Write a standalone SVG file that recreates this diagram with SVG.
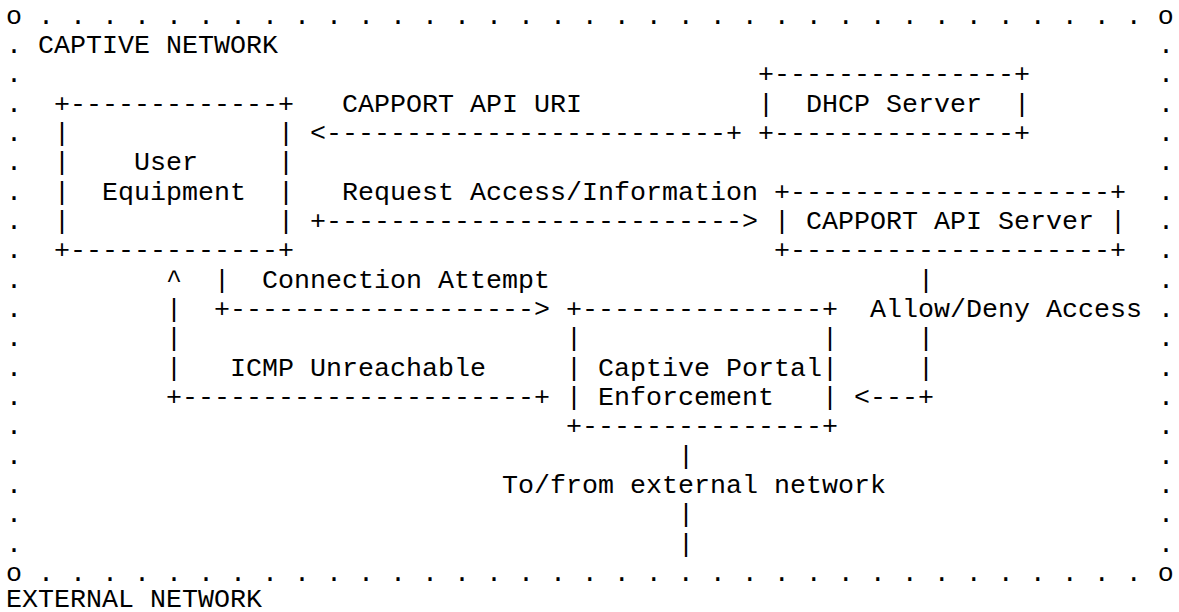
<svg xmlns="http://www.w3.org/2000/svg" width="1179" height="612" viewBox="0 0 1179 612">
<style>
text{font-family:"Liberation Mono","DejaVu Sans Mono",monospace;font-size:26.667px;fill:#000;white-space:pre}
</style>
<rect x="0" y="0" width="1179" height="612" fill="#fff"/>
<g id="captive-network" xml:space="preserve">
<text x="6" y="23.5">o . . . . . . . . . . . . . . . . . . . . . . . . . . . . . . . . . . . o</text>
<text x="38" y="52.8">CAPTIVE NETWORK</text>
<text><tspan x="6" y="52.8">.</tspan><tspan x="6" y="82.2">.</tspan><tspan x="6" y="111.5">.</tspan><tspan x="6" y="140.8">.</tspan><tspan x="6" y="170.2">.</tspan><tspan x="6" y="199.5">.</tspan><tspan x="6" y="228.8">.</tspan><tspan x="6" y="258.2">.</tspan><tspan x="6" y="287.5">.</tspan><tspan x="6" y="316.8">.</tspan><tspan x="6" y="346.2">.</tspan><tspan x="6" y="375.5">.</tspan><tspan x="6" y="404.8">.</tspan><tspan x="6" y="434.2">.</tspan><tspan x="6" y="463.5">.</tspan><tspan x="6" y="492.8">.</tspan><tspan x="6" y="522.2">.</tspan><tspan x="6" y="551.5">.</tspan></text>
<text><tspan x="1158" y="52.8">.</tspan><tspan x="1158" y="82.2">.</tspan><tspan x="1158" y="111.5">.</tspan><tspan x="1158" y="140.8">.</tspan><tspan x="1158" y="170.2">.</tspan><tspan x="1158" y="199.5">.</tspan><tspan x="1158" y="228.8">.</tspan><tspan x="1158" y="258.2">.</tspan><tspan x="1158" y="287.5">.</tspan><tspan x="1158" y="316.8">.</tspan><tspan x="1158" y="346.2">.</tspan><tspan x="1158" y="375.5">.</tspan><tspan x="1158" y="404.8">.</tspan><tspan x="1158" y="434.2">.</tspan><tspan x="1158" y="463.5">.</tspan><tspan x="1158" y="492.8">.</tspan><tspan x="1158" y="522.2">.</tspan><tspan x="1158" y="551.5">.</tspan></text>
<text x="6" y="580.8">o . . . . . . . . . . . . . . . . . . . . . . . . . . . . . . . . . . . o</text>
<text x="6" y="607">EXTERNAL NETWORK</text>
</g>
<g id="user-equipment" xml:space="preserve">
<text x="54" y="111.5">+-------------+</text>
<text><tspan x="54" y="140.8">|</tspan><tspan x="54" y="170.2">|</tspan><tspan x="54" y="199.5">|</tspan><tspan x="54" y="228.8">|</tspan></text>
<text><tspan x="278" y="140.8">|</tspan><tspan x="278" y="170.2">|</tspan><tspan x="278" y="199.5">|</tspan><tspan x="278" y="228.8">|</tspan></text>
<text x="134" y="170.2">User</text>
<text x="102" y="199.5">Equipment</text>
<text x="54" y="258.2">+-------------+</text>
</g>
<g id="dhcp-server" xml:space="preserve">
<text x="758" y="82.2">+---------------+</text>
<text x="758" y="111.5">|</text>
<text x="806" y="111.5">DHCP Server</text>
<text x="1014" y="111.5">|</text>
<text x="758" y="140.8">+---------------+</text>
</g>
<g id="capport-api-server" xml:space="preserve">
<text x="774" y="199.5">+--------------------+</text>
<text x="774" y="228.8">|</text>
<text x="806" y="228.8">CAPPORT API Server</text>
<text x="1110" y="228.8">|</text>
<text x="774" y="258.2">+--------------------+</text>
</g>
<g id="captive-portal-enforcement" xml:space="preserve">
<text x="566" y="316.8">+---------------+</text>
<text><tspan x="566" y="346.2">|</tspan><tspan x="566" y="375.5">|</tspan><tspan x="566" y="404.8">|</tspan></text>
<text><tspan x="822" y="346.2">|</tspan><tspan x="822" y="375.5">|</tspan><tspan x="822" y="404.8">|</tspan></text>
<text x="598" y="375.5">Captive Portal</text>
<text x="598" y="404.8">Enforcement</text>
<text x="566" y="434.2">+---------------+</text>
</g>
<g id="connectors" xml:space="preserve">
<g id="capport-api-uri">
<text x="342" y="111.5">CAPPORT API URI</text>
<text x="310" y="140.8">&lt;-------------------------+</text>
</g>
<g id="request-access">
<text x="342" y="199.5">Request Access/Information</text>
<text x="310" y="228.8">+--------------------------&gt;</text>
</g>
<g id="connection-attempt">
<text x="214" y="287.5">|</text>
<text x="262" y="287.5">Connection Attempt</text>
<text x="214" y="316.8">+-------------------&gt;</text>
</g>
<g id="icmp-unreachable">
<text x="166" y="287.5">^</text>
<text><tspan x="166" y="316.8">|</tspan><tspan x="166" y="346.2">|</tspan><tspan x="166" y="375.5">|</tspan></text>
<text x="230" y="375.5">ICMP Unreachable</text>
<text x="166" y="404.8">+----------------------+</text>
</g>
<g id="allow-deny-access">
<text x="918" y="287.5">|</text>
<text x="870" y="316.8">Allow/Deny Access</text>
<text><tspan x="918" y="346.2">|</tspan><tspan x="918" y="375.5">|</tspan></text>
<text x="854" y="404.8">&lt;---+</text>
</g>
<g id="external-network-link">
<text x="678" y="463.5">|</text>
<text x="502" y="492.8">To/from external network</text>
<text><tspan x="678" y="522.2">|</tspan><tspan x="678" y="551.5">|</tspan></text>
</g>
</g>
</svg>
